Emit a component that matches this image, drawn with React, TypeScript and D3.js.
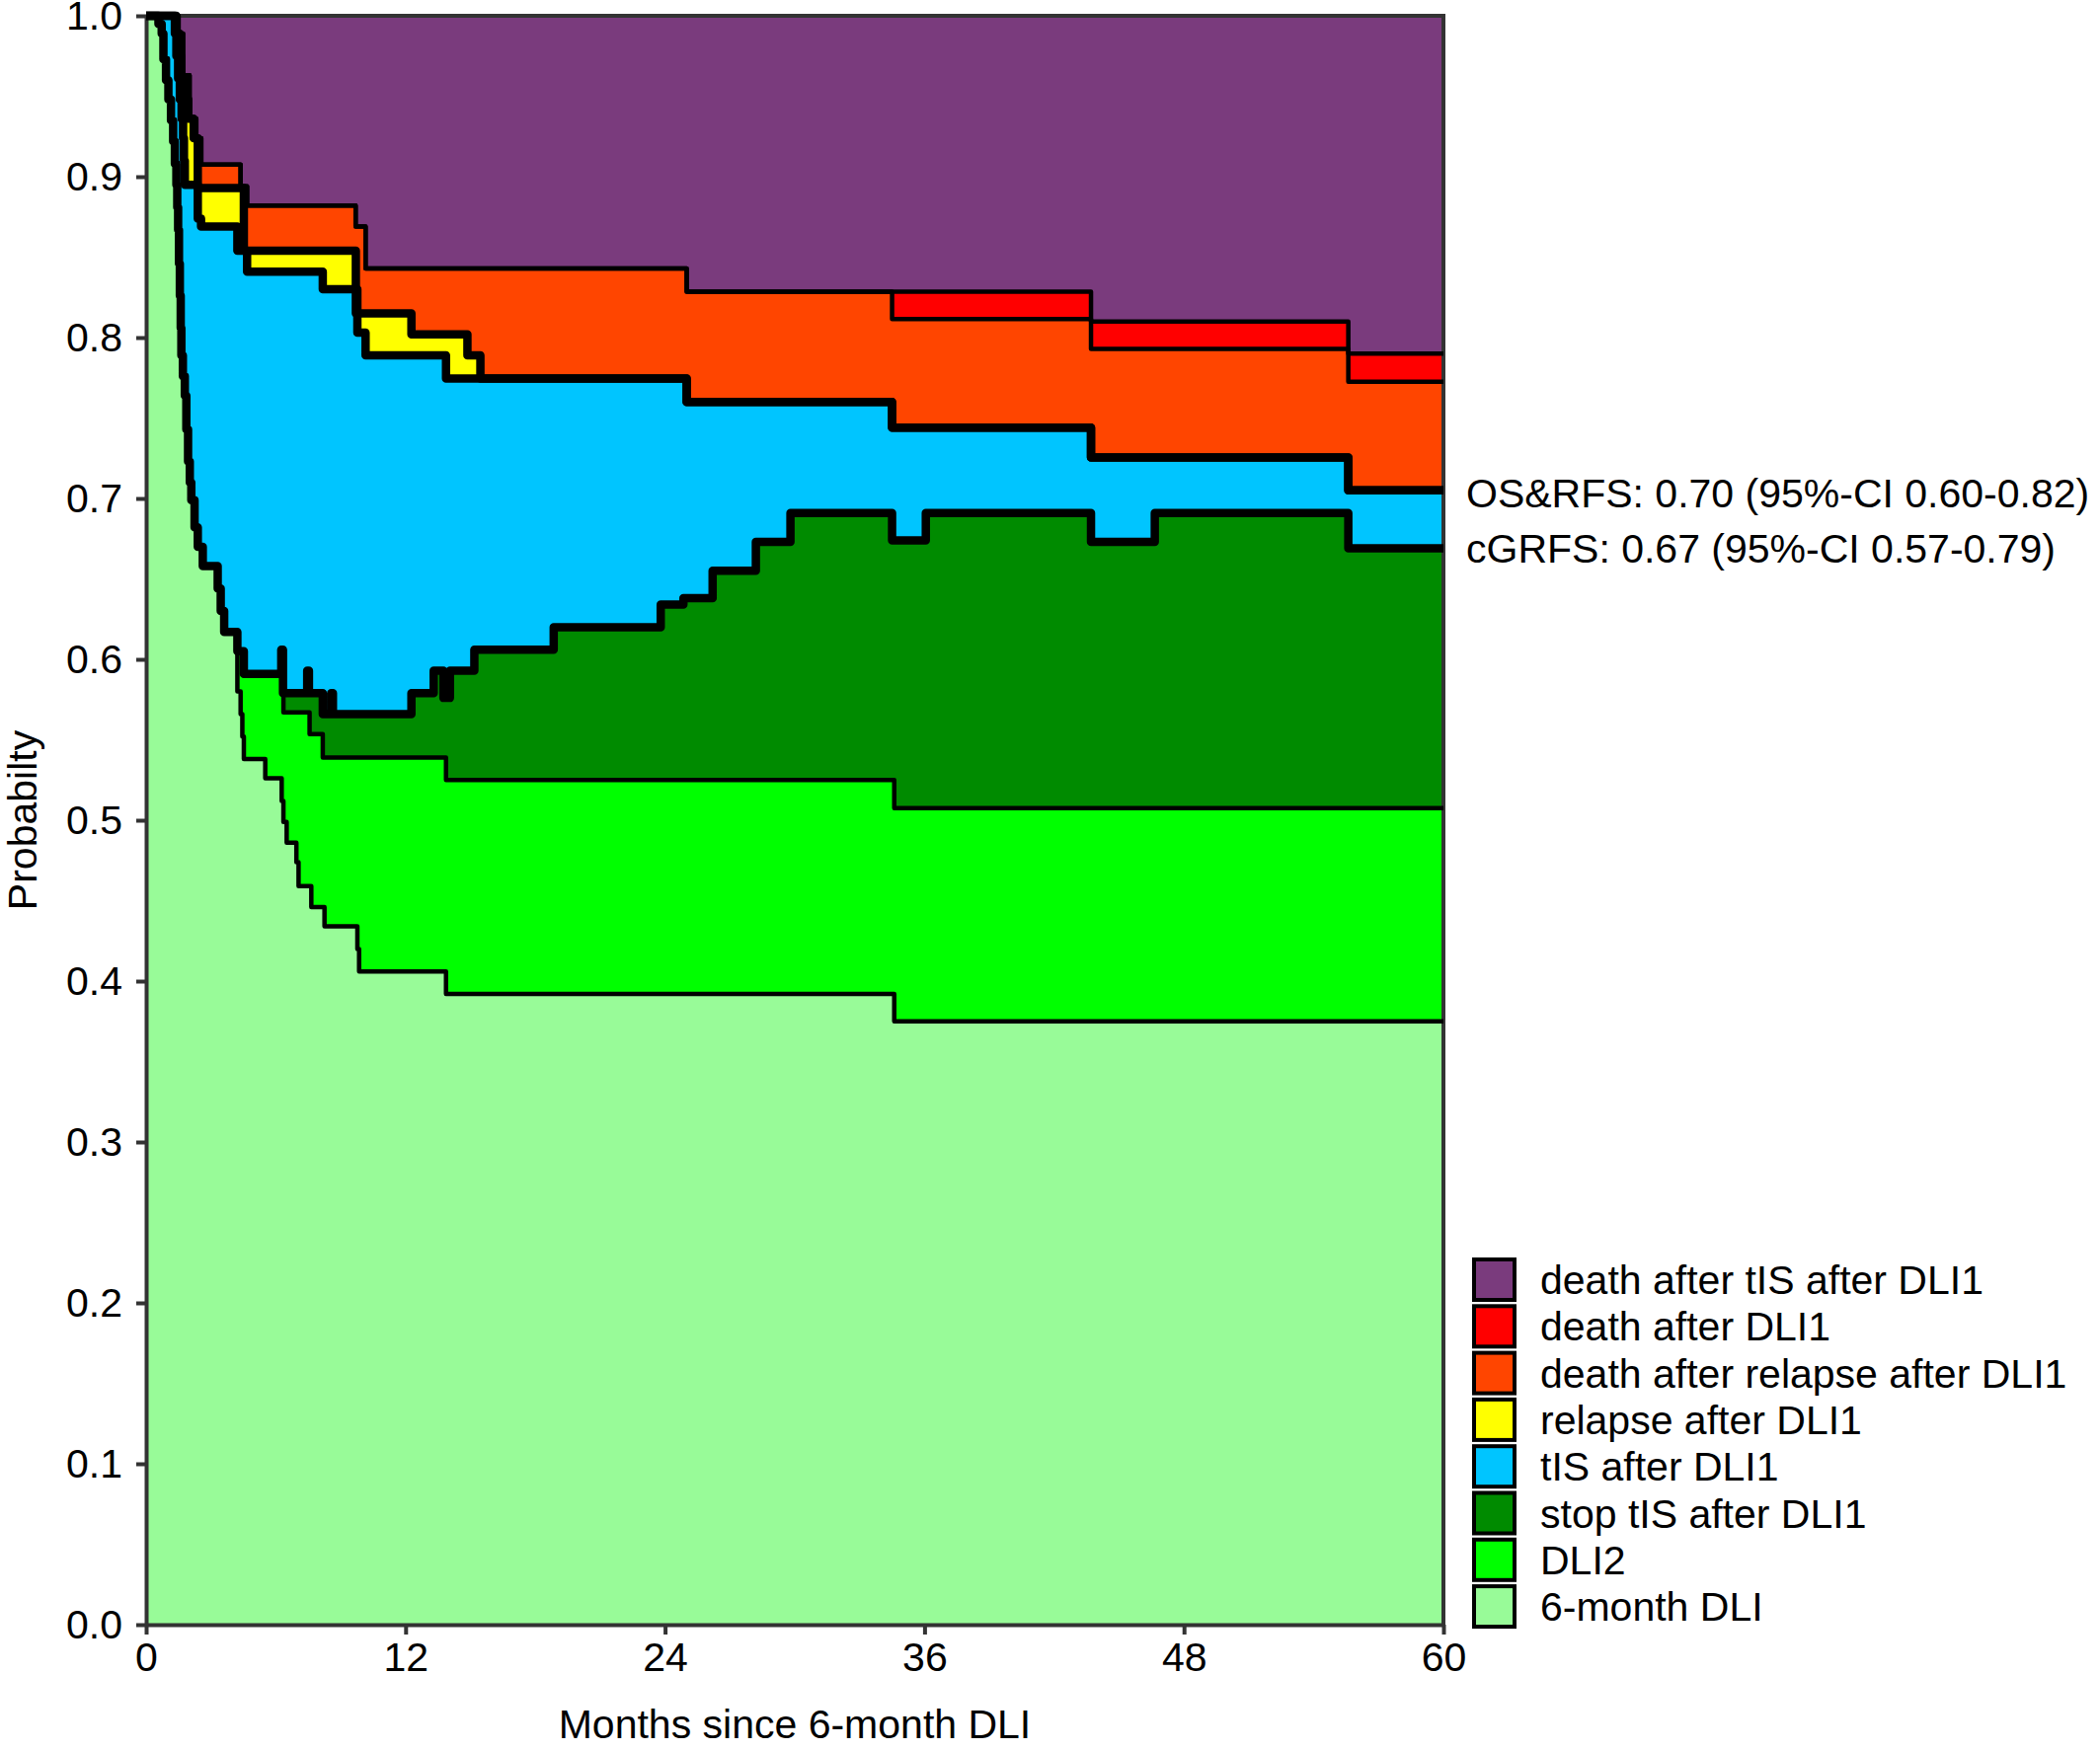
import * as d3 from "d3";
import { useEffect, useRef } from "react";

// cumulative probability at the top of each state (step functions, months since 6-month DLI)
const TOP_SIX_MONTH_DLI: [number, number][] = [
  [0, 1], [0.57, 0.995], [0.72, 0.989], [0.8, 0.973], [0.92, 0.96], [1.03, 0.948], [1.15, 0.935],
  [1.25, 0.922], [1.33, 0.908], [1.4, 0.895], [1.44, 0.881], [1.48, 0.867], [1.52, 0.846],
  [1.56, 0.826], [1.6, 0.806], [1.63, 0.789], [1.7, 0.776], [1.79, 0.764], [1.86, 0.743],
  [1.94, 0.723], [2.02, 0.71], [2.09, 0.699], [2.24, 0.682], [2.39, 0.67], [2.62, 0.658],
  [3.31, 0.644], [3.45, 0.63], [3.61, 0.617], [4.22, 0.58], [4.37, 0.566], [4.45, 0.552],
  [4.52, 0.538], [5.51, 0.526], [6.27, 0.512], [6.35, 0.499], [6.5, 0.486], [6.95, 0.474],
  [7.05, 0.459], [7.64, 0.446], [8.25, 0.434], [9.77, 0.42], [9.85, 0.406], [13.87, 0.392],
  [34.6, 0.375],
];

const TOP_DLI2: [number, number][] = [
  [0, 1], [0.57, 0.995], [0.72, 0.989], [0.8, 0.973], [0.92, 0.96], [1.03, 0.948], [1.15, 0.935],
  [1.25, 0.922], [1.33, 0.908], [1.4, 0.895], [1.44, 0.881], [1.48, 0.867], [1.52, 0.846],
  [1.56, 0.826], [1.6, 0.806], [1.63, 0.789], [1.7, 0.776], [1.79, 0.764], [1.86, 0.743],
  [1.94, 0.723], [2.02, 0.71], [2.09, 0.699], [2.24, 0.682], [2.39, 0.67], [2.62, 0.658],
  [3.31, 0.644], [3.45, 0.63], [3.61, 0.617], [4.22, 0.605], [4.52, 0.591], [6.35, 0.567],
  [7.56, 0.5535], [8.17, 0.539], [13.87, 0.525], [34.6, 0.5075],
];

const TOP_STOP_TIS: [number, number][] = [
  [0, 1], [0.57, 0.995], [0.72, 0.989], [0.8, 0.973], [0.92, 0.96], [1.03, 0.948], [1.15, 0.935],
  [1.25, 0.922], [1.33, 0.908], [1.4, 0.895], [1.44, 0.881], [1.48, 0.867], [1.52, 0.846],
  [1.56, 0.826], [1.6, 0.806], [1.63, 0.789], [1.7, 0.776], [1.79, 0.764], [1.86, 0.743],
  [1.94, 0.723], [2.02, 0.71], [2.09, 0.699], [2.24, 0.682], [2.39, 0.67], [2.62, 0.658],
  [3.31, 0.644], [3.45, 0.63], [3.61, 0.617], [4.22, 0.605], [4.52, 0.591], [6.25, 0.606],
  [6.33, 0.579], [7.45, 0.593], [7.53, 0.579], [8.17, 0.566], [8.56, 0.579], [8.64, 0.566],
  [12.27, 0.579], [13.3, 0.593], [13.75, 0.576], [14.05, 0.593], [15.18, 0.606], [18.85, 0.62],
  [23.8, 0.634], [24.85, 0.638], [26.2, 0.655], [28.2, 0.673], [29.8, 0.691], [34.5, 0.674],
  [36.06, 0.691], [43.7, 0.673], [46.65, 0.691], [55.6, 0.669],
];

const TOP_TIS: [number, number][] = [
  [0, 1], [1.33, 0.989], [1.4, 0.975], [1.48, 0.961], [1.56, 0.948], [1.64, 0.936], [1.71, 0.924],
  [1.75, 0.91], [1.79, 0.895], [2.39, 0.874], [2.54, 0.869], [4.22, 0.854], [4.67, 0.841],
  [8.17, 0.83], [9.77, 0.803], [10.15, 0.789], [13.87, 0.7745], [25.0, 0.76], [34.5, 0.744],
  [43.7, 0.7255], [55.6, 0.705],
];

const TOP_RELAPSE: [number, number][] = [
  [0, 1], [1.4, 0.989], [1.55, 0.975], [1.62, 0.962], [1.8, 0.948], [1.95, 0.936], [2.2, 0.924],
  [2.39, 0.893], [4.52, 0.854], [9.7, 0.815], [12.27, 0.802], [14.86, 0.789], [15.46, 0.7745],
  [25.0, 0.76], [34.5, 0.744], [43.7, 0.7255], [55.6, 0.705],
];

const TOP_DEATH_RELAPSE: [number, number][] = [
  [0, 1], [1.5, 0.989], [1.71, 0.963], [2.01, 0.936], [2.32, 0.924], [2.55, 0.9075], [4.37, 0.894],
  [4.67, 0.882], [9.69, 0.869], [10.15, 0.843], [25.0, 0.8286], [34.5, 0.8115], [43.7, 0.793],
  [55.6, 0.7725],
];

const TOP_DEATH_DLI1: [number, number][] = [
  [0, 1], [1.5, 0.989], [1.71, 0.963], [2.01, 0.936], [2.32, 0.924], [2.55, 0.9075], [4.37, 0.894],
  [4.67, 0.882], [9.69, 0.869], [10.15, 0.843], [25.0, 0.8286], [43.7, 0.81], [55.6, 0.79],
];

const STATES = [
  "death after tIS after DLI1",
  "death after DLI1",
  "death after relapse after DLI1",
  "relapse after DLI1",
  "tIS after DLI1",
  "stop tIS after DLI1",
  "DLI2",
  "6-month DLI",
];
const COLORS = ["#7a3b7d", "#ff0000", "#ff4500", "#ffff00", "#00c5ff", "#008b00", "#00ff00", "#98fb98"];

const X_TICKS = [0, 12, 24, 36, 48, 60];
const Y_TICKS = [0, 0.1, 0.2, 0.3, 0.4, 0.5, 0.6, 0.7, 0.8, 0.9, 1.0];
const NOTES = ["OS&RFS: 0.70 (95%-CI 0.60-0.82)", "cGRFS: 0.67 (95%-CI 0.57-0.79)"];

const FONT = "'Liberation Sans', Arial, sans-serif";
const FS = 41;

export default function App() {
  const ref = useRef<SVGSVGElement | null>(null);

  useEffect(() => {
    const svg = d3.select(ref.current);
    svg.selectAll("*").remove();

    const width = 2127;
    const height = 1773;
    svg.attr("width", width).attr("height", height).attr("viewBox", `0 0 ${width} ${height}`);

    const x = d3.scaleLinear().domain([0, 60]).range([148, 1462]);
    const y = d3.scaleLinear().domain([0, 1]).range([1646, 16]);

    const ext = (s: [number, number][]) => [...s, [60, s[s.length - 1][1]] as [number, number]];

    const area = d3
      .area<[number, number]>()
      .curve(d3.curveStepAfter)
      .x((d) => x(d[0]))
      .y0(y(0))
      .y1((d) => y(d[1]));
    const line = d3
      .line<[number, number]>()
      .curve(d3.curveStepAfter)
      .x((d) => x(d[0]))
      .y((d) => y(d[1]));

    // fills, painted from the top state down
    svg
      .append("rect")
      .attr("x", x(0))
      .attr("y", y(1))
      .attr("width", x(60) - x(0))
      .attr("height", y(0) - y(1))
      .attr("fill", COLORS[0]);

    const tops = [
      TOP_DEATH_DLI1,
      TOP_DEATH_RELAPSE,
      TOP_RELAPSE,
      TOP_TIS,
      TOP_STOP_TIS,
      TOP_DLI2,
      TOP_SIX_MONTH_DLI,
    ];
    tops.forEach((s, i) => {
      svg.append("path").attr("d", area(ext(s)) ?? "").attr("fill", COLORS[i + 1]);
    });

    // axes
    const gx = svg
      .append("g")
      .attr("transform", `translate(0,${y(0)})`)
      .call(d3.axisBottom(x).tickValues(X_TICKS).tickSize(10).tickPadding(8).tickSizeOuter(0));
    const gy = svg
      .append("g")
      .attr("transform", `translate(${x(0)},0)`)
      .call(
        d3
          .axisLeft(y)
          .tickValues(Y_TICKS)
          .tickFormat(d3.format(".1f"))
          .tickSize(10)
          .tickPadding(14)
          .tickSizeOuter(0)
      );
    [gx, gy].forEach((g) => {
      g.selectAll("path").attr("stroke", "#333").attr("stroke-width", 4);
      g.selectAll("line").attr("stroke", "#333").attr("stroke-width", 4);
      g.selectAll("text")
        .attr("fill", "#000")
        .attr("font-size", FS)
        .attr("font-family", FONT);
    });

    svg
      .append("path")
      .attr("d", `M${x(0)},${y(1)}H${x(60)}V${y(0)}`)
      .attr("fill", "none")
      .attr("stroke", "#333")
      .attr("stroke-width", 4);

    // boundaries
    const thin = [TOP_SIX_MONTH_DLI, TOP_DLI2, TOP_DEATH_RELAPSE, TOP_DEATH_DLI1];
    const thick = [TOP_STOP_TIS, TOP_TIS, TOP_RELAPSE];
    thin.forEach((s) => {
      svg
        .append("path")
        .attr("d", line(ext(s)) ?? "")
        .attr("fill", "none")
        .attr("stroke", "#000")
        .attr("stroke-width", 4.5)
        .attr("stroke-linejoin", "round");
    });
    thick.forEach((s) => {
      svg
        .append("path")
        .attr("d", line(ext(s)) ?? "")
        .attr("fill", "none")
        .attr("stroke", "#000")
        .attr("stroke-width", 8.5)
        .attr("stroke-linejoin", "round");
    });

    // axis titles
    svg
      .append("text")
      .attr("x", x(30))
      .attr("y", 1761)
      .attr("text-anchor", "middle")
      .attr("font-size", FS)
      .attr("font-family", FONT)
      .text("Months since 6-month DLI");
    svg
      .append("text")
      .attr("transform", `translate(37,${y(0.5)}) rotate(-90)`)
      .attr("text-anchor", "middle")
      .attr("font-size", FS)
      .attr("font-family", FONT)
      .text("Probabilty");

    // notes at the right end
    NOTES.forEach((t, i) => {
      svg
        .append("text")
        .attr("x", 1485)
        .attr("y", 514 + i * 56)
        .attr("font-size", FS)
        .attr("font-family", FONT)
        .text(t);
    });

    // legend
    const lg = svg.append("g").attr("transform", "translate(1491,1274)");
    STATES.forEach((s, i) => {
      lg.append("rect")
        .attr("x", 2)
        .attr("y", i * 47.3 + 2)
        .attr("width", 41)
        .attr("height", 41)
        .attr("fill", COLORS[i])
        .attr("stroke", "#000")
        .attr("stroke-width", 4);
      lg.append("text")
        .attr("x", 69)
        .attr("y", i * 47.3 + 37)
        .attr("font-size", FS)
        .attr("font-family", FONT)
        .text(s);
    });
  }, []);

  return <svg ref={ref} style={{ position: "absolute", left: 0, top: 0, background: "#fff" }} />;
}
